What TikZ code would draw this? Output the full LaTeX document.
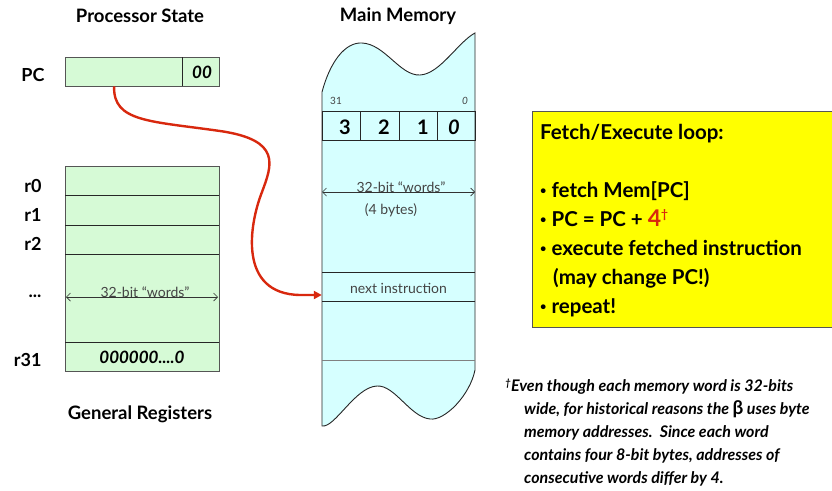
\documentclass[tikz,border=0pt]{standalone}
\usepackage{fontspec}
\setmainfont{Lato}
\usetikzlibrary{arrows.meta,calc}
\definecolor{reggreen}{HTML}{D6FAD6}
\definecolor{memcyan}{HTML}{D6FFFF}
\definecolor{loopyellow}{HTML}{FFFF00}
\definecolor{arrowred}{HTML}{D8280E}
\definecolor{edgegray}{HTML}{555555}
\definecolor{labelgray}{HTML}{444444}
\newcommand{\dotitem}{\raisebox{0.2ex}{\fontsize{11}{11}\selectfont\textbullet}\ }
\tikzset{
  title/.style={font=\fontsize{18.5}{20}\selectfont\bfseries, anchor=center},
  reglabel/.style={font=\fontsize{18}{20}\selectfont\bfseries, anchor=east},
  regbox/.style={draw=edgegray, fill=reggreen, line width=0.9pt, rectangle, inner sep=0pt},
  divider/.style={draw=black!85, line width=0.9pt},
  dimarrow/.style={{Straight Barb[length=4pt]}-{Straight Barb[length=4pt]}, draw=black!80, line width=0.7pt},
  smalltext/.style={font=\fontsize{14}{16}\selectfont, text=labelgray},
  looptext/.style={font=\fontsize{20.5}{22}\selectfont\bfseries, anchor=base west, inner sep=0pt},
  notetext/.style={font=\fontsize{16}{18}\selectfont\bfseries\itshape, anchor=base west, inner sep=0pt},
  fetcharrow/.style={draw=arrowred, line width=2.4pt, -{Triangle[length=8pt,width=8pt]}},
}
\begin{document}
\begin{tikzpicture}[x=1pt,y=-1pt]
\useasboundingbox (0,0) rectangle (832,490);

% ---------------- processor state ----------------
\node[title] (pstitle) at (140,16) {Processor State};

\node[regbox, minimum width=154pt, minimum height=29pt] (pc) at (142,71.5) {};
\draw[divider] (182,57) -- (182,86);
\node[font=\fontsize{17}{19}\selectfont\bfseries\itshape] (pclow) at (202,72) {00};
\node[reglabel] (pclabel) at (48,75) {PC};

% general registers
\node[regbox, minimum width=154pt, minimum height=205pt] (regs) at (142,268.5) {};
\draw[divider] (65,195) -- (219,195);
\draw[divider] (65,225) -- (219,225);
\draw[divider] (65,254) -- (219,254);
\draw[divider] (65,342) -- (219,342);
\node[reglabel] (r0) at (45,186) {r0};
\node[reglabel] (r1) at (45,215) {r1};
\node[reglabel] (r2) at (45,244) {r2};
\node[reglabel] (rdots) at (45,296) {...};
\node[reglabel] (r31) at (45,360) {r31};
\coordinate (regl) at (66,297);
\coordinate (regr) at (218,297);
\draw[dimarrow] (regl) -- (regr);
\node[smalltext, anchor=base] (regw) at (145,297) {32-bit “words”};
\node[font=\fontsize{17}{19}\selectfont\bfseries\itshape] (r31val) at (142,357) {000000....0};
\node[title] (grtitle) at (140,414) {General Registers};

% ---------------- main memory ----------------
\node[title] (mmtitle) at (398,16) {Main Memory};
\draw[draw=black!85, fill=memcyan, line width=0.9pt]
  (322,426) -- (322,92)
  .. controls (330,62) and (345,42) .. (362,43)
  .. controls (385,44) and (400,76) .. (420,75)
  .. controls (440,74) and (458,42) .. (475,33)
  -- (475,370)
  .. controls (470,395) and (445,421) .. (430,419)
  .. controls (410,417) and (395,385) .. (377,386)
  .. controls (355,387) and (335,428) .. (322,426) -- cycle;
\node[font=\fontsize{10}{11}\selectfont, text=labelgray] (b31) at (336,101) {31};
\node[font=\fontsize{10}{11}\selectfont\itshape, text=labelgray] (b0) at (465,101) {0};
% byte row
\node[draw=black!85, line width=0.9pt, minimum width=153pt, minimum height=29pt, inner sep=0pt] (bytes) at (398.5,125.5) {};
\draw[divider] (360,111) -- (360,140);
\draw[divider] (399,111) -- (399,140);
\draw[divider] (437,111) -- (437,140);
\node[font=\fontsize{20}{22}\selectfont\bfseries] (byte3) at (345,127) {3};
\node[font=\fontsize{20}{22}\selectfont\bfseries] (byte2) at (384,127) {2};
\node[font=\fontsize{20}{22}\selectfont\bfseries] (byte1) at (423,127) {1};
\node[font=\fontsize{20}{22}\selectfont\bfseries\itshape] (byte0) at (454,127) {0};
% word width
\coordinate (meml) at (322,192);
\coordinate (memr) at (475,192);
\draw[dimarrow] (meml) -- (memr);
\node[smalltext, anchor=base] (memw) at (401,192) {32-bit “words”};
\node[smalltext] (membytes) at (391,210) {(4 bytes)};
% next instruction row
\draw[divider] (322,272) -- (475,272);
\draw[divider] (322,301) -- (475,301);
\node[smalltext, inner sep=0pt, minimum height=29pt, minimum width=153pt] (nextrow) at (398.5,288) {next instruction};
\draw[draw=gray, line width=0.9pt] (322,360) -- (475,360);

% fetch path from PC to the next instruction
\draw[fetcharrow] ($(pc.south west)!0.32!(pc.south east)$)
  .. controls (113,122) and (150,121) .. (220,131)
  .. controls (282,140) and (272,165) .. (262,192)
  .. controls (249,225) and (238,294) .. (300,295)
  -- ([yshift=-7pt]nextrow.west);

% ---------------- fetch / execute loop ----------------
\node[draw=edgegray, fill=loopyellow, line width=0.9pt, minimum width=310pt, minimum height=216pt, anchor=north west, inner sep=0pt] (loopbox) at (532,111) {};
\node[looptext] (l0) at (540,139) {Fetch/Execute loop:};
\node[looptext] (l1) at (540,197) {\dotitem fetch Mem[PC]};
\node[looptext] (l2) at (540,226) {\dotitem PC = PC + \textcolor{arrowred}{\fontsize{23}{24}\selectfont 4\raisebox{0.6ex}{\fontsize{12}{12}\selectfont †}}};
\node[looptext] (l3) at (540,255) {\dotitem execute fetched instruction};
\node[looptext] (l4) at (553,284) {(may change PC!)};
\node[looptext] (l5) at (540,313) {\dotitem repeat!};

% ---------------- footnote ----------------
\node[notetext] (n1) at (505,391) {\raisebox{0.6ex}{\fontsize{10}{11}\selectfont †}Even though each memory word is 32-bits};
\node[notetext] (n2) at (524,414) {wide, for historical reasons the {\fontsize{19}{20}\selectfont\upshape β} uses byte};
\node[notetext] (n3) at (524,437) {memory addresses.\ \ Since each word};
\node[notetext] (n4) at (524,460) {contains four 8-bit bytes, addresses of};
\node[notetext] (n5) at (524,483) {consecutive words differ by 4.};
\end{tikzpicture}
\end{document}
